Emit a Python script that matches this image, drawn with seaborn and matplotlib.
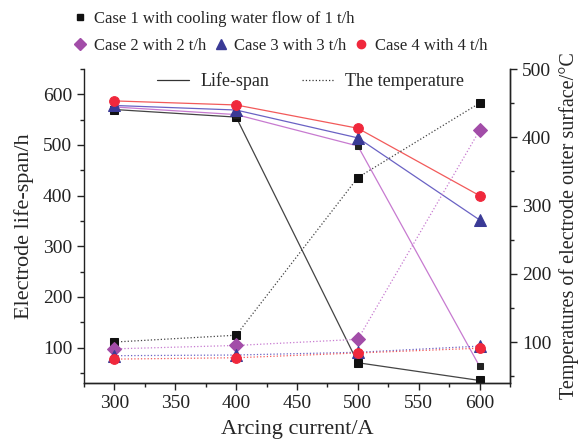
import matplotlib
matplotlib.use("Agg")
import matplotlib.pyplot as plt
from matplotlib.lines import Line2D
from matplotlib.ticker import MultipleLocator
import seaborn as sns
import pandas as pd

sns.set_theme(style="ticks")
plt.rcParams['font.family'] = ['Liberation Serif', 'DejaVu Serif']

current = [300, 400, 500, 600]
cases = ["Case 1 with cooling water flow of 1 t/h", "Case 2 with 2 t/h",
         "Case 3 with 3 t/h", "Case 4 with 4 t/h"]
life_c1 = [570, 555, 70, 35]
life_c2 = [575, 560, 498, 63]
life_c3 = [578, 569, 514, 352]
life_c4 = [587, 579, 533, 400]
temp_c1 = [100, 110, 341, 450]
temp_c2 = [90, 95, 104, 410]
temp_c3 = [80, 81, 85, 94]
temp_c4 = [75, 77, 84, 91]

marker_cols = ["#111111", "#A24DA8", "#3A3A96", "#F0283C"]
line_cols = ["#444444", "#C77AD0", "#6A62C4", "#F25A5A"]
markers = ["s", "D", "^", "o"]
msizes = [6, 7, 8, 7]

lifes = [life_c1, life_c2, life_c3, life_c4]
temps = [temp_c1, temp_c2, temp_c3, temp_c4]

fig = plt.figure(figsize=(5.81, 4.45), dpi=100)
ax = fig.add_axes([84 / 581, 1 - 383 / 445, (510 - 84) / 581, (383 - 69) / 445])
ax2 = ax.twinx()

for i in range(4):
    df = pd.DataFrame({"x": current, "life": lifes[i], "temp": temps[i]})
    # case 2 life-span markers look like small dark squares in the source
    if i == 1:
        lm, ls, lc = "s", 4, "#222222"
    else:
        lm, ls, lc = markers[i], msizes[i], marker_cols[i]
    sns.lineplot(data=df, x="x", y="life", ax=ax, color=line_cols[i], lw=0.9,
                 marker=lm, markersize=ls, markerfacecolor=lc,
                 markeredgecolor=lc, zorder=3 + i)
    sns.lineplot(data=df, x="x", y="temp", ax=ax2, color=line_cols[i], lw=0.9,
                 linestyle=":", marker=markers[i], markersize=msizes[i],
                 markerfacecolor=marker_cols[i], markeredgecolor=marker_cols[i],
                 zorder=3 + i)

ax.set_xlim(275, 625)
ax.set_ylim(30, 650)
ax2.set_ylim(40, 500)
ax.xaxis.set_major_locator(MultipleLocator(50))
ax.xaxis.set_minor_locator(MultipleLocator(25))
ax.yaxis.set_major_locator(MultipleLocator(100))
ax.yaxis.set_minor_locator(MultipleLocator(50))
ax2.yaxis.set_major_locator(MultipleLocator(100))
ax2.yaxis.set_minor_locator(MultipleLocator(50))

for a in (ax, ax2):
    a.spines["top"].set_visible(False)
    for s in a.spines.values():
        s.set_linewidth(1.0)
        s.set_color("#222222")
    a.tick_params(axis="both", which="major", direction="out", length=5,
                  width=1, labelsize=14, colors="#222222")
    a.tick_params(axis="both", which="minor", direction="out", length=3,
                  width=1, colors="#222222")
ax2.spines["left"].set_visible(False)

ax.set_xlabel("Arcing current/A", fontsize=16, labelpad=6)
ax.set_ylabel("Electrode life-span/h", fontsize=16, labelpad=6)
ax2.set_ylabel("Temperatures of electrode outer surface/°C", fontsize=14.5, labelpad=6)

# line-style legend inside the plot
style_handles = [Line2D([], [], color="#333333", lw=0.9, linestyle="-"),
                 Line2D([], [], color="#333333", lw=0.9, linestyle=":")]
ax.legend(style_handles, ["Life-span", "The temperature"], loc="upper left",
          bbox_to_anchor=(0.171, 0.99), ncol=2, frameon=False, fontsize=13,
          handlelength=1.8, handletextpad=0.6, columnspacing=1.8,
          borderpad=0, borderaxespad=0)

# case legends above the plot
case_handles = [Line2D([], [], linestyle="none", marker=markers[i],
                       markersize=msizes[i] - 1, color=marker_cols[i])
                for i in range(4)]
fig.legend(case_handles[:1], cases[:1], loc="upper left",
           bbox_to_anchor=(72 / 581, 1 - 11 / 445), frameon=False, fontsize=12,
           handlelength=1.0, handletextpad=0.3, borderpad=0, borderaxespad=0)
fig.legend(case_handles[1:], cases[1:], loc="upper left", ncol=3,
           bbox_to_anchor=(72 / 581, 1 - 38 / 445), frameon=False, fontsize=12,
           handlelength=1.0, handletextpad=0.3, columnspacing=0.4,
           borderpad=0, borderaxespad=0)

fig.savefig("out.png", dpi=100)
